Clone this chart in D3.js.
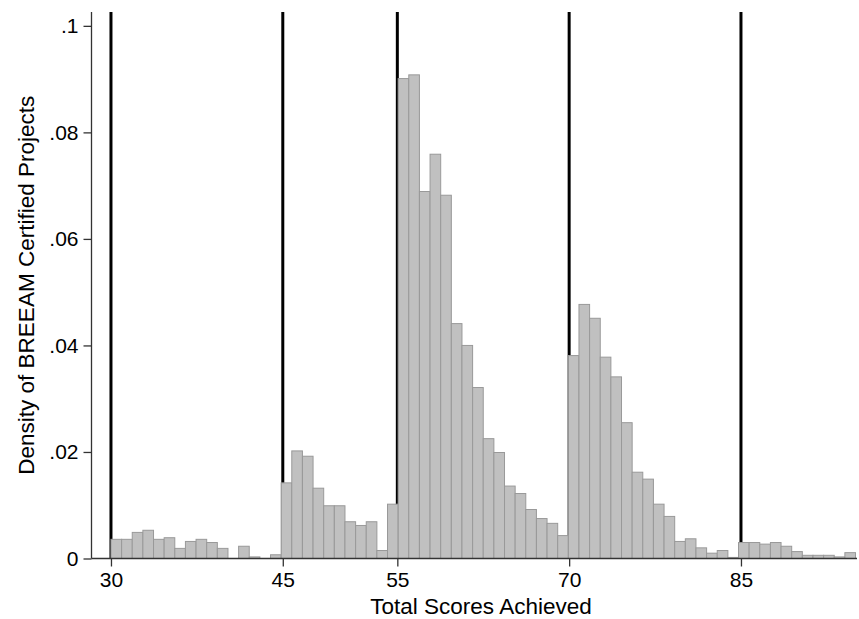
<!DOCTYPE html>
<html>
<head>
<meta charset="utf-8">
<script src="https://cdn.jsdelivr.net/npm/d3@7"></script>
<style>
  html, body { margin: 0; padding: 0; background: #fff; }
  svg { display: block; }
  text { font-family: "Liberation Sans", Arial, Helvetica, sans-serif; fill: #000; }
</style>
</head>
<body>
<svg id="chart" width="859" height="619"></svg>
<script>
// Histogram of total BREEAM scores: 70 equal-width bins starting at 30
const binStart = 30;
const binWidth = 65 / 70;
const density = [
  0.0036, 0.0036, 0.0049, 0.0053, 0.0036, 0.0039, 0.0019, 0.0032, 0.0036, 0.0030,
  0.0019, 0.0000, 0.0023, 0.0003, 0.0000, 0.0007, 0.0142, 0.0202, 0.0192, 0.0132,
  0.0099, 0.0099, 0.0069, 0.0062, 0.0069, 0.0015, 0.0102, 0.0901, 0.0908, 0.0689,
  0.0759, 0.0682, 0.0441, 0.0400, 0.0321, 0.0225, 0.0199, 0.0136, 0.0122, 0.0092,
  0.0075, 0.0066, 0.0043, 0.0381, 0.0477, 0.0451, 0.0378, 0.0341, 0.0255, 0.0162,
  0.0149, 0.0102, 0.0079, 0.0032, 0.0037, 0.0020, 0.0010, 0.0015, 0.0002, 0.0030,
  0.0030, 0.0027, 0.0030, 0.0023, 0.0013, 0.0006, 0.0006, 0.0006, 0.0003, 0.0011
];
// Rating thresholds (Unclassified / Pass / Good / Very Good / Excellent / Outstanding)
const thresholds = [30, 45, 55, 70, 85];
const xTicks = [30, 45, 55, 70, 85];
const yTicks = [0, 0.02, 0.04, 0.06, 0.08, 0.1];
const xTitle = "Total Scores Achieved";
const yTitle = "Density of BREEAM Certified Projects";

const bins = density.map((d, i) => ({
  x0: binStart + i * binWidth,
  x1: binStart + (i + 1) * binWidth,
  d
}));

const plot = { left: 91.5, right: 857, top: 12, bottom: 558.5 };

const x = d3.scaleLinear().domain([28.3, 95.13]).range([plot.left, plot.right]);
const y = d3.scaleLinear().domain([0, 0.1026]).range([plot.bottom, plot.top]);

const svg = d3.select("#chart");

// threshold lines sit behind the bars
svg.append("g")
  .selectAll("line")
  .data(thresholds)
  .join("line")
  .attr("x1", d => x(d)).attr("x2", d => x(d))
  .attr("y1", plot.top).attr("y2", plot.bottom)
  .attr("stroke", "#000")
  .attr("stroke-width", 3);

// bars (empty bins are skipped)
svg.append("g")
  .selectAll("rect")
  .data(bins.filter(b => b.d > 0))
  .join("rect")
  .attr("x", b => x(b.x0))
  .attr("width", b => x(b.x1) - x(b.x0))
  .attr("y", b => y(b.d))
  .attr("height", b => y(0) - y(b.d))
  .attr("fill", "#c0c0c0")
  .attr("stroke", "#999999")
  .attr("stroke-width", 1);

const fmt = d => d === 0 ? "0" : String(d).replace(/^0/, "");

// x axis
const xAxis = svg.append("g")
  .attr("transform", `translate(0,${plot.bottom})`)
  .call(d3.axisBottom(x).tickValues(xTicks).tickSize(8).tickPadding(6).tickSizeOuter(0));
xAxis.select(".domain").remove();
xAxis.append("line")
  .attr("x1", plot.left).attr("x2", plot.right)
  .attr("stroke", "#333").attr("stroke-width", 1.3);
xAxis.selectAll(".tick line").attr("stroke", "#333").attr("stroke-width", 1.3);
xAxis.selectAll(".tick text")
  .attr("font-size", 21)
  .style("font-family", "'Liberation Sans', Arial, sans-serif")
  .attr("fill", "#000");

// y axis
const yAxis = svg.append("g")
  .attr("transform", `translate(${plot.left},0)`)
  .call(d3.axisLeft(y).tickValues(yTicks).tickFormat(fmt).tickSize(8).tickPadding(5).tickSizeOuter(0));
yAxis.select(".domain").remove();
yAxis.append("line")
  .attr("y1", plot.top).attr("y2", plot.bottom)
  .attr("stroke", "#333").attr("stroke-width", 1.3);
yAxis.selectAll(".tick line").attr("stroke", "#333").attr("stroke-width", 1.3);
yAxis.selectAll(".tick text")
  .attr("font-size", 21)
  .style("font-family", "'Liberation Sans', Arial, sans-serif")
  .attr("fill", "#000");

// axis titles
svg.append("text")
  .attr("x", 481).attr("y", 614)
  .attr("text-anchor", "middle")
  .attr("font-size", 22.5)
  .text(xTitle);

svg.append("text")
  .attr("transform", `translate(34,${(plot.top + plot.bottom) / 2}) rotate(-90)`)
  .attr("text-anchor", "middle")
  .attr("font-size", 22.5)
  .text(yTitle);
</script>
</body>
</html>
